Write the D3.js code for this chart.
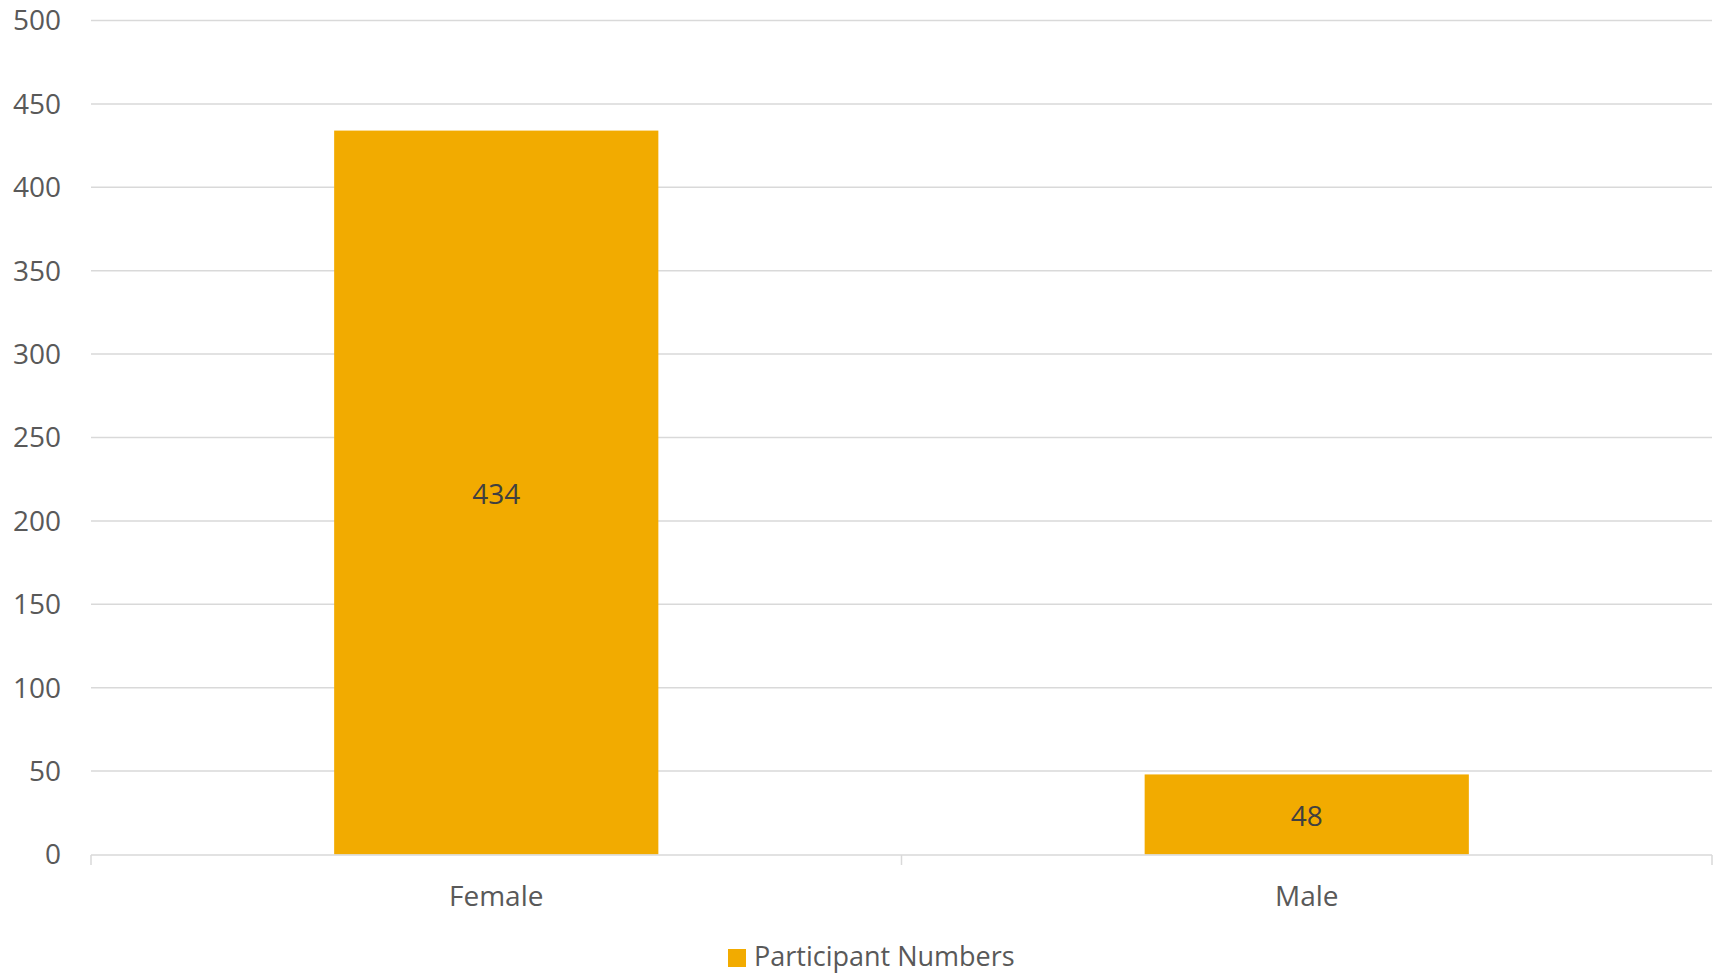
<!DOCTYPE html>
<html>
<head>
<meta charset="utf-8">
<script src="https://cdn.jsdelivr.net/npm/d3@7"></script>
<style>
  html, body { margin: 0; padding: 0; background: #fff; }
  svg { display: block; }
  text { font-family: "Open Sans", "Noto Sans", sans-serif; }
</style>
</head>
<body>
<svg id="chart" width="1720" height="974"></svg>
<script>
const categories = ["Female", "Male"];
const values = [434, 48];
const seriesName = "Participant Numbers";
const yTicks = [0, 50, 100, 150, 200, 250, 300, 350, 400, 450, 500];

const W = 1720, H = 974;
const margin = { left: 91, right: 8, top: 20.5, bottom: 119.5 };
const svg = d3.select("#chart");

const x = d3.scaleBand().domain(categories).range([margin.left, W - margin.right]).padding(0);
const y = d3.scaleLinear().domain([0, 500]).range([H - margin.bottom, margin.top]);

const color = "#F2AB00";
const gridColor = "#D9D9D9";
const textColor = "#595959";

// gridlines
svg.append("g").selectAll("line").data(yTicks.filter(d => d > 0)).join("line")
  .attr("x1", margin.left).attr("x2", W - margin.right)
  .attr("y1", d => y(d)).attr("y2", d => y(d))
  .attr("stroke", gridColor).attr("stroke-width", 1.5);

// y tick labels
svg.append("g").selectAll("text").data(yTicks).join("text")
  .attr("x", 61).attr("y", d => y(d)).attr("dy", "0.35em")
  .attr("text-anchor", "end").attr("font-size", 28).attr("fill", textColor)
  .text(d => d);

// bars
const barW = x.bandwidth() * 0.4;
svg.append("g").selectAll("rect").data(values).join("rect")
  .attr("x", (d, i) => x(categories[i]) + (x.bandwidth() - barW) / 2)
  .attr("width", barW)
  .attr("y", d => y(d))
  .attr("height", d => y(0) - y(d))
  .attr("fill", color);

// x axis line and ticks
const axisY = y(0) + 0.5;
svg.append("line").attr("x1", margin.left).attr("x2", W - margin.right)
  .attr("y1", axisY).attr("y2", axisY).attr("stroke", gridColor).attr("stroke-width", 1.5);
const tickXs = [x.range()[0]].concat(categories.map(c => x(c) + x.bandwidth()));
svg.append("g").selectAll("line").data(tickXs).join("line")
  .attr("x1", d => d).attr("x2", d => d)
  .attr("y1", axisY).attr("y2", axisY + 10)
  .attr("stroke", gridColor).attr("stroke-width", 1.5);

// category labels
svg.append("g").selectAll("text").data(categories).join("text")
  .attr("x", d => x(d) + x.bandwidth() / 2).attr("y", 896).attr("dy", "0.35em")
  .attr("text-anchor", "middle").attr("font-size", 28).attr("fill", textColor)
  .text(d => d);

// value labels
svg.append("g").selectAll("text").data(values).join("text")
  .attr("x", (d, i) => x(categories[i]) + x.bandwidth() / 2)
  .attr("y", d => (y(d) + y(0)) / 2 + 2).attr("dy", "0.35em")
  .attr("text-anchor", "middle").attr("font-size", 28).attr("fill", "#404040")
  .text(d => d);

// legend
const lg = svg.append("g");
lg.append("rect").attr("x", 728).attr("y", 949).attr("width", 18).attr("height", 18).attr("fill", color);
lg.append("text").attr("x", 754).attr("y", 966)
  .attr("font-size", 27).attr("fill", textColor).text(seriesName);
</script>
</body>
</html>
